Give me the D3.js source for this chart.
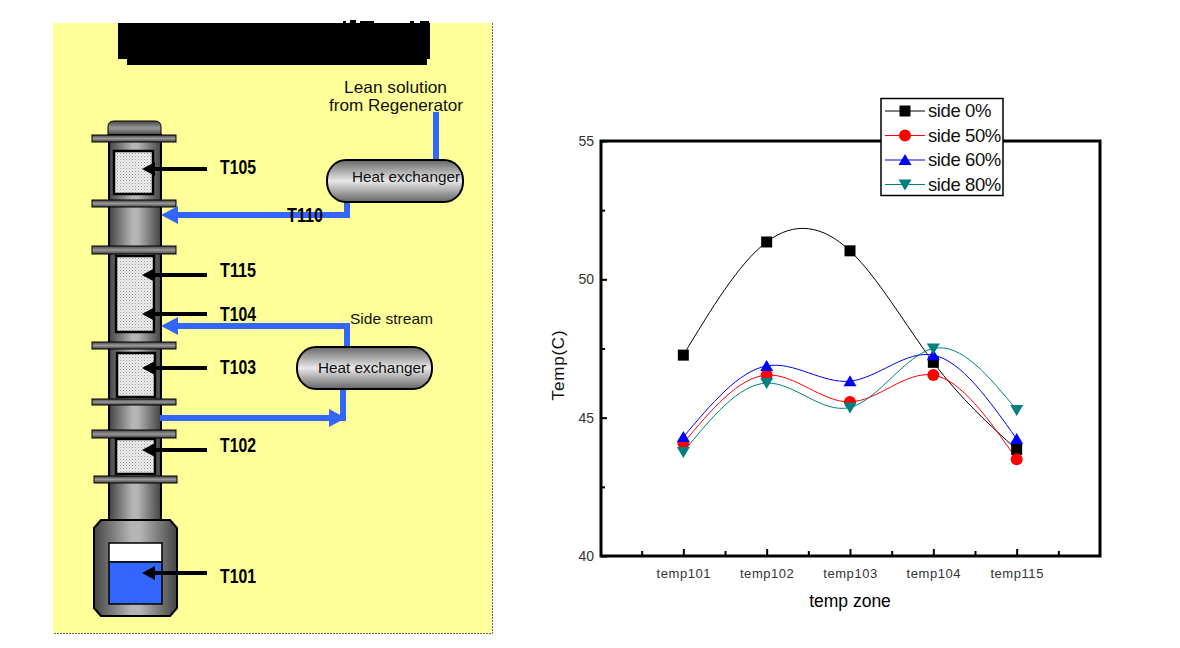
<!DOCTYPE html>
<html><head><meta charset="utf-8">
<script src="https://cdn.jsdelivr.net/npm/d3@7"></script>
<style>html,body{margin:0;padding:0;background:#fff}svg{display:block}text{font-family:"Liberation Sans",Arial,sans-serif}</style>
</head><body><svg id="c" width="1180" height="648"></svg>
<script>
// ---- chart data ----
const categories = ["temp101","temp102","temp103","temp104","temp115"];
const catPos = [1,2,3,4,5];
const side0  = [47.26,51.35,51.03,47.00,43.85];
const side50 = [44.08,46.54,45.57,46.54,43.50];
const side60 = [44.30,46.87,46.32,47.26,44.23];
const side80 = [43.76,46.25,45.37,47.50,45.28];
const seriesNames = ["side 0%","side 50%","side 60%","side 80%"];
const seriesColors = ["#000000","#ff0000","#0000ff","#007f7f"];
const seriesSymbols = ["square","circle","up","down"];
const yMajor = [40,45,50,55];
const yMinor = [42.5,47.5,52.5];
const xMinor = [0.5,1.5,2.5,3.5,4.5,5.5];

// ---- schematic parts ----
const flanges = [[92,176,135,142],[92,176,200,207],[92,176,246,254],[92,176,342,349],[92,176,399,405],[92,176,430,438],[94,177,476,483]];
const packings = [[114,153,151,194],[116,154,256,332],[117,155,353,397],[116,155,439,474]];
const probes = [["T105",169,167],["T115",275,270],["T104",314,314],["T103",368,367],["T102",450,445],["T101",573,576]];
const exchangers = [[327,463,160,202,352,177],[297,432,347,389,318,368]];

const svg = d3.select("#c");
const defs = svg.append("defs");
const lg = (id,attrs,stops)=>{const g=defs.append("linearGradient").attr("id",id);Object.entries(attrs).forEach(([k,v])=>g.attr(k,v));
  stops.forEach(([o,c])=>g.append("stop").attr("offset",o).attr("stop-color",c));};
lg("col",{x1:0,x2:1,y1:0,y2:0},[[0,"#444"],[.45,"#b5b5b5"],[.55,"#b5b5b5"],[1,"#444"]]);
lg("fla",{x1:0,x2:0,y1:0,y2:1},[[0,"#444"],[.5,"#999"],[1,"#444"]]);
lg("hx",{x1:0,x2:0,y1:0,y2:1},[[0,"#666"],[.5,"#e8e8e8"],[1,"#666"]]);
const pat = defs.append("pattern").attr("id","pack").attr("width",3).attr("height",3).attr("patternUnits","userSpaceOnUse");
pat.append("rect").attr("width",3).attr("height",3).attr("fill","#eeeeee");
pat.append("rect").attr("width",1).attr("height",1).attr("fill","#9a9a9a");
pat.append("rect").attr("x",1.5).attr("y",1.5).attr("width",1).attr("height",1).attr("fill","#bbbbbb");

const L = svg.append("g");
L.append("rect").attr("x",53).attr("y",23).attr("width",439).attr("height",610).attr("fill","#ffff99");
L.append("path").attr("d","M492.5,23V633.5H53").attr("fill","none").attr("stroke","#666").attr("stroke-dasharray","2 1");

// occluded title block
L.append("path").attr("fill","#000").attr("d","M118,23H430V59H427V65H127V59H118Z");
L.append("path").attr("fill","#000").attr("d","M343,23V21H346V23ZM350,23V20H356V23ZM360,23V21H374V23ZM410,23V21H414V23ZM420,23V21H429V23Z");

// column
const colg = L.append("g");
colg.append("path").attr("d","M108,135V127Q108,121 114,121H155Q161,121 161,127V135Z").attr("fill","url(#fla)").attr("stroke","#000");
colg.append("rect").attr("x",109).attr("y",135).attr("width",52).attr("height",390).attr("fill","url(#col)").attr("stroke","#000").attr("stroke-width",2);
colg.append("path").attr("d","M101,520H170L177,528V608L170,616H101L94,608V528Z").attr("fill","url(#col)").attr("stroke","#000").attr("stroke-width",2);
colg.selectAll("rect.f").data(flanges).join("rect").attr("class","f")
  .attr("x",d=>d[0]).attr("width",d=>d[1]-d[0]).attr("y",d=>d[2]).attr("height",d=>d[3]-d[2])
  .attr("fill","url(#fla)").attr("stroke","#000");
colg.selectAll("rect.p").data(packings).join("rect").attr("class","p")
  .attr("x",d=>d[0]).attr("width",d=>d[1]-d[0]).attr("y",d=>d[2]).attr("height",d=>d[3]-d[2])
  .attr("fill","url(#pack)").attr("stroke","#000").attr("stroke-width",2.5);
colg.append("rect").attr("x",109).attr("y",543).attr("width",53).attr("height",19).attr("fill","#fff").attr("stroke","#000").attr("stroke-width",1.5);
colg.append("rect").attr("x",109).attr("y",562).attr("width",53).attr("height",42).attr("fill","#3366ff").attr("stroke","#000").attr("stroke-width",1.5);

// blue pipes
const blue="#3366ff";
const pipe = (d)=>L.append("path").attr("d",d).attr("fill","none").attr("stroke",blue).attr("stroke-width",6);
const head = (d)=>L.append("path").attr("d",d).attr("fill",blue);
pipe("M436,112V161");
pipe("M347,201V215H170"); head("M161,215L178,206V224Z");
pipe("M347,348V326H170"); head("M161,326L178,317V335Z");
pipe("M343,389V418H160"); pipe("M160,418H335"); head("M346,418L329,409V427Z");

// heat exchangers
exchangers.forEach(e=>{
  L.append("rect").attr("x",e[0]).attr("y",e[2]).attr("width",e[1]-e[0]).attr("height",e[3]-e[2]).attr("rx",19).attr("ry",20)
   .attr("fill","url(#hx)").attr("stroke","#000").attr("stroke-width",2);
  L.append("text").attr("x",e[4]).attr("y",e[5]+5).attr("font-size",14.5).attr("textLength",108).attr("lengthAdjust","spacingAndGlyphs").attr("fill","#111").text("Heat exchanger");
});

// probes
probes.forEach(p=>{
  L.append("path").attr("d",`M207,${p[1]}H152`).attr("stroke","#000").attr("stroke-width",4);
  L.append("path").attr("d",`M142,${p[1]}L155,${p[1]-7}V${p[1]+7}Z`).attr("fill","#000");
  L.append("text").attr("x",220).attr("y",p[2]+7).attr("font-size",19.5).attr("font-weight","bold").attr("textLength",36).attr("lengthAdjust","spacingAndGlyphs").text(p[0]);
});
L.append("text").attr("x",287).attr("y",222).attr("font-size",19.5).attr("font-weight","bold").attr("textLength",36).attr("lengthAdjust","spacingAndGlyphs").text("T110");

const lab=(t,x,y,len,fs)=>L.append("text").attr("x",x).attr("y",y).attr("font-size",fs).attr("textLength",len).attr("lengthAdjust","spacingAndGlyphs").attr("fill","#111").text(t);
lab("Lean solution",344,93,103,16.5);
lab("from Regenerator",329,111,134,16.5);
lab("Side stream",350,324,83,15);

// ---- plot ----
const x = d3.scaleLinear().domain([0,6]).range([600,1100]);
const y = d3.scaleLinear().domain([40,55]).range([556,141]);
const P = svg.append("g");

const xa = P.append("g").attr("transform","translate(0,556)").call(
  d3.axisBottom(x).tickValues(catPos).tickSizeInner(-7).tickSizeOuter(0).tickPadding(0).tickFormat((d,i)=>categories[i]));
xa.selectAll("text").attr("dy",0).attr("y",22).attr("font-size",13).attr("fill","#333").attr("letter-spacing",".55");
const xm = P.append("g").attr("transform","translate(0,556)").call(
  d3.axisBottom(x).tickValues(xMinor).tickSizeInner(-5).tickSizeOuter(0).tickFormat(""));
const ya = P.append("g").attr("transform","translate(601,0)").call(
  d3.axisLeft(y).tickValues(yMajor).tickSizeInner(-6).tickSizeOuter(0).tickPadding(7));
ya.selectAll("text").attr("font-size",14).attr("fill","#333");
const ym = P.append("g").attr("transform","translate(601,0)").call(
  d3.axisLeft(y).tickValues(yMinor).tickSizeInner(-4).tickSizeOuter(0).tickFormat(""));
P.selectAll(".tick line").attr("stroke","#000").attr("stroke-width",2);
P.selectAll(".domain").remove();
P.selectAll(".tick text").attr("font-family",'"Liberation Sans",Arial,sans-serif');

P.append("rect").attr("x",x(0)+1).attr("y",y(55)).attr("width",x(6)-x(0)-1).attr("height",y(40)-y(55))
  .attr("fill","none").attr("stroke","#000").attr("stroke-width",3);

const symbolPath = (k)=>({
  square:"M-5.5,-5.5H5.5V5.5H-5.5Z",
  circle:d3.symbol(d3.symbolCircle,Math.PI*36)(),
  up:"M0,-6L6.5,5H-6.5Z",
  down:"M0,6L6.5,-5H-6.5Z"}[k]);

const allSeries=[side0,side50,side60,side80];
const line = d3.line().x((d,i)=>x(catPos[i])).y(d=>y(d)).curve(d3.curveNatural);
allSeries.forEach((s,k)=>{
  P.append("path").attr("d",line(s)).attr("fill","none").attr("stroke",seriesColors[k]).attr("stroke-width",1);
});
allSeries.forEach((s,k)=>{
  P.selectAll(null).data(s).join("path").attr("d",symbolPath(seriesSymbols[k])).attr("fill",seriesColors[k])
   .attr("transform",(d,i)=>`translate(${x(catPos[i])},${y(d)})`);
});

P.append("text").attr("x",850).attr("y",607).attr("text-anchor","middle").attr("font-size",17.5).text("temp zone");
P.append("text").attr("transform","translate(564,365) rotate(-90)").attr("text-anchor","middle").attr("font-size",17).attr("letter-spacing",".8").attr("fill","#111").text("Temp(C)");

// legend
const lgd = P.append("g");
lgd.append("rect").attr("x",881).attr("y",98.5).attr("width",122).attr("height",97).attr("fill","#fff").attr("stroke","#000").attr("stroke-width",1.5);
const rowY=d3.scalePoint().domain(seriesNames).range([111,184.5]);
seriesNames.forEach((n,k)=>{
  const yy=rowY(n);
  lgd.append("line").attr("x1",885).attr("x2",925).attr("y1",yy).attr("y2",yy).attr("stroke",seriesColors[k]).attr("stroke-width",1);
  lgd.append("path").attr("d",symbolPath(seriesSymbols[k])).attr("fill",seriesColors[k]).attr("transform",`translate(905,${yy})`);
  lgd.append("text").attr("x",928).attr("y",yy+6).attr("font-size",18.5).attr("letter-spacing","-.4").attr("fill","#111").text(n);
});
</script></body></html>
